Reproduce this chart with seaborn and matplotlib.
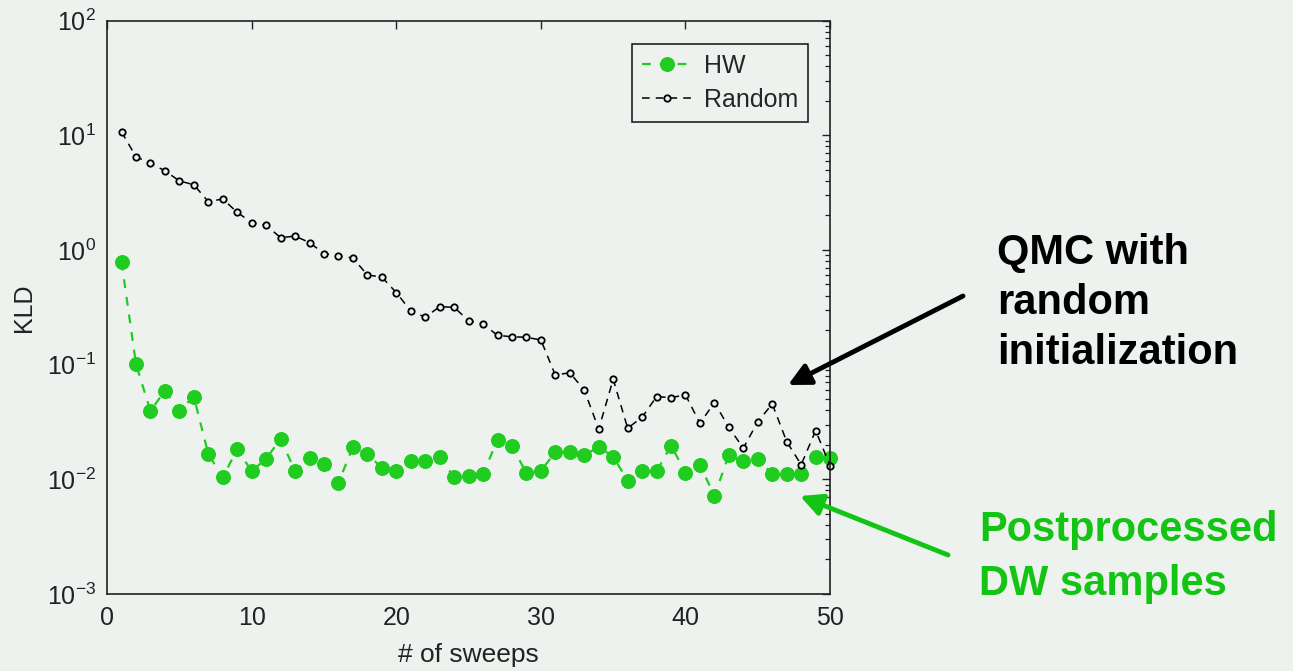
import numpy as np
import pandas as pd
import seaborn as sns
import matplotlib
matplotlib.use("Agg")
import matplotlib.pyplot as plt
from matplotlib.ticker import LogLocator, NullFormatter

sweeps = list(range(1, 51))

kld_hw = [0.79, 0.101, 0.0394, 0.0593, 0.0397, 0.0526, 0.0166, 0.0104, 0.0183, 0.0118,
          0.0151, 0.0225, 0.0118, 0.0153, 0.0136, 0.00935, 0.0191, 0.0166, 0.0126, 0.0117,
          0.0143, 0.0143, 0.0158, 0.0104, 0.0107, 0.0111, 0.0221, 0.0196, 0.0113, 0.0119,
          0.0172, 0.0174, 0.0163, 0.0191, 0.0158, 0.0097, 0.0119, 0.0117, 0.0197, 0.01145,
          0.0133, 0.0072, 0.0163, 0.0143, 0.0150, 0.0111, 0.0111, 0.0111, 0.0158, 0.0152]

kld_random = [10.7, 6.5, 5.7, 4.9, 4.0, 3.7, 2.64, 2.78, 2.13, 1.73,
              1.64, 1.28, 1.32, 1.16, 0.93, 0.89, 0.85, 0.605, 0.58, 0.425,
              0.294, 0.259, 0.32, 0.316, 0.242, 0.226, 0.18, 0.175, 0.173, 0.164,
              0.081, 0.085, 0.060, 0.0274, 0.0746, 0.0279, 0.0348, 0.0526, 0.0516, 0.0544,
              0.0308, 0.0467, 0.0283, 0.0187, 0.0318, 0.0454, 0.0213, 0.0134, 0.0266, 0.0131]

series_names = ["HW", "Random"]
x_ticks = [0, 10, 20, 30, 40, 50]
y_exponents = [-3, -2, -1, 0, 1, 2]

BG = "#eef2ef"
GREEN = "#1fcc1f"
TEXT_GREEN = "#14c414"
INK = "#222222"

sns.set_theme(style="white")
plt.rcParams["font.family"] = ["Liberation Sans", "DejaVu Sans"]
plt.rcParams["mathtext.fontset"] = "custom"
plt.rcParams["mathtext.rm"] = "Liberation Sans"
plt.rcParams["axes.unicode_minus"] = False

fig = plt.figure(figsize=(12.93, 6.71), dpi=100, facecolor=BG)
ax = fig.add_axes([0.0828, 0.1148, 0.5592, 0.8545])
ax.set_facecolor(BG)

df = pd.DataFrame({"sweeps": sweeps, "HW": kld_hw, "Random": kld_random})

sns.lineplot(data=df, x="sweeps", y="HW", ax=ax, color=GREEN, linestyle=(0, (4, 4)),
             linewidth=1.6, marker="o", markersize=10, markerfacecolor=GREEN,
             markeredgecolor=GREEN, label=series_names[0], clip_on=False)
sns.lineplot(data=df, x="sweeps", y="Random", ax=ax, color="black", linestyle=(0, (5, 4)),
             linewidth=1.1, marker="o", markersize=4.6, markerfacecolor=BG,
             markeredgecolor="black", markeredgewidth=1.3, label=series_names[1],
             clip_on=False)

ax.set_yscale("log")
ax.set_xlim(0, 50)
ax.set_ylim(1e-3, 1e2)
ax.set_xticks(x_ticks)
ax.set_xticklabels([str(t) for t in x_ticks])
ax.set_yticks([10.0 ** e for e in y_exponents])
ax.set_yticklabels([r"$10^{%d}$" % e for e in y_exponents])
ax.yaxis.set_minor_locator(LogLocator(base=10, subs=np.arange(2, 10), numticks=10))
ax.yaxis.set_minor_formatter(NullFormatter())

ax.tick_params(axis="both", which="both", direction="in", top=True, right=True,
               labelsize=18, colors=INK)
ax.tick_params(axis="x", which="major", pad=9)
ax.tick_params(axis="y", which="major", pad=8)
ax.tick_params(axis="both", which="major", length=6, width=1)
ax.tick_params(axis="y", which="minor", length=3.5, width=0.9)
for s in ax.spines.values():
    s.set_color(INK)
    s.set_linewidth(1.2)

ax.set_xlabel("# of sweeps", fontsize=19, color=INK, labelpad=9)
ax.set_ylabel("KLD", fontsize=18, color=INK, labelpad=8)

leg = ax.legend(loc="upper right", bbox_to_anchor=(0.97, 0.96), fontsize=18,
                frameon=True, fancybox=False, handlelength=2.0, borderpad=0.4,
                labelspacing=0.42, handletextpad=0.5, borderaxespad=0.0)
leg.get_frame().set_edgecolor(INK)
leg.get_frame().set_facecolor(BG)
leg.get_frame().set_linewidth(1.2)
leg.get_frame().set_alpha(1)

# callout labels with arrows pointing into the plot
fig.text(997 / 1293, 1 - 233 / 671, "QMC with\nrandom\ninitialization",
         fontsize=30, fontweight="bold", color="black", ha="left", va="top",
         linespacing=1.33)
ax.annotate("", xy=(788 / 1293, 1 - 385 / 671), xycoords="figure fraction",
            xytext=(963 / 1293, 1 - 296 / 671), textcoords="figure fraction",
            arrowprops=dict(arrowstyle="-|>,head_length=1.1,head_width=0.55",
                            color="black", lw=3.5, shrinkA=0, shrinkB=0),
            annotation_clip=False)

fig.text(979 / 1293, 1 - 510 / 671, "Postprocessed\nDW samples",
         fontsize=30, fontweight="bold", color=TEXT_GREEN, ha="left", va="top",
         linespacing=1.44)
ax.annotate("", xy=(800 / 1293, 1 - 496 / 671), xycoords="figure fraction",
            xytext=(948 / 1293, 1 - 555 / 671), textcoords="figure fraction",
            arrowprops=dict(arrowstyle="-|>,head_length=1.1,head_width=0.55",
                            color=TEXT_GREEN, lw=3.5, shrinkA=0, shrinkB=0),
            annotation_clip=False)

fig.savefig("out.png", dpi=100, facecolor=BG)
